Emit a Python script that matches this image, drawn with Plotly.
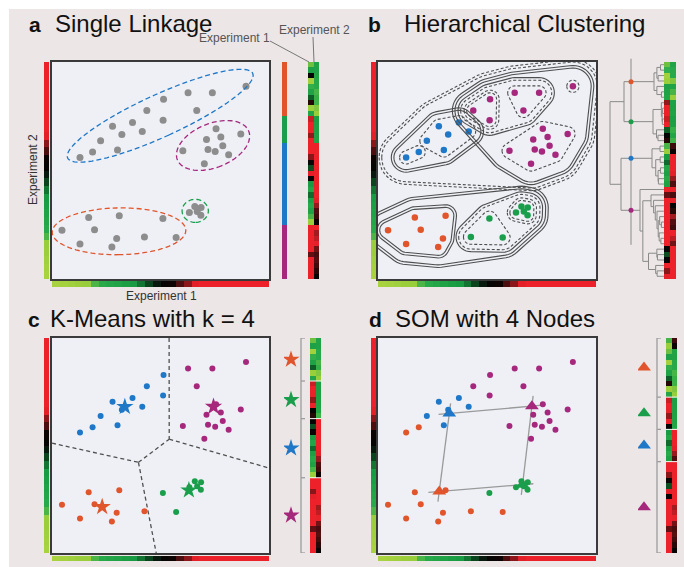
import numpy as np
import plotly.graph_objects as go

W, H = 684, 567

# ---------------- data ----------------
exp1 = [89.4, 73.9, 62.7, 51.4, 43.7, 66.7, 51.2, 37.1, 27.9, 41.6, 32.2, 22.4, 30.2, 18.7, 12.9,
        75.6, 71.2, 77.8, 87.0, 78.7, 60.3, 71.9, 75.2, 81.4, 70.2,
        65.8, 68.7, 66.9, 63.3, 68.6,
        16.9, 31.0, 51.1, 4.6, 19.6, 29.8, 42.6, 57.2, 12.9, 27.6]
exp2 = [88.8, 85.8, 85.8, 82.8, 77.6, 77.6, 73.2, 72.1, 70.4, 68.0, 66.6, 63.7, 59.4, 58.5, 56.0,
        69.2, 64.3, 65.4, 66.8, 61.4, 59.1, 59.7, 58.7, 57.3, 53.1,
        33.4, 32.9, 31.1, 30.6, 29.4,
        28.3, 29.2, 27.9, 22.5, 22.7, 18.7, 19.4, 19.1, 16.1, 14.7]

labels_single = ['B'] * 15 + ['M'] * 10 + ['G'] * 5 + ['O'] * 10
labels_hier = ['M'] * 7 + ['B'] * 8 + ['M'] * 10 + ['G'] * 5 + ['O', 'O', 'G', 'O', 'O', 'O', 'G', 'G', 'O', 'O']
labels_kmeans = ['M', 'M', 'M', 'B', 'B', 'M'] + ['B'] * 9 + ['M'] * 10 + ['G'] * 5 + ['O', 'O', 'G', 'O', 'O', 'O', 'O', 'G', 'O', 'O']
labels_som = ['M'] * 7 + ['B'] * 6 + ['O'] * 2 + ['M'] * 10 + ['G'] * 5 + ['O', 'O', 'G'] + ['O'] * 7

cluster_order = ['O', 'G', 'B', 'M']

som_node_labels = ['O', 'B', 'M', 'G']
som_node_x = [28.1, 32.7, 70.6, 66.3]
som_node_y = [28.6, 64.9, 68.3, 31.8]

# nested groups drawn in the hierarchical panel: (members, line kinds inner->outer, padding)
hier_groups = [
    ([13, 14], ['dash'], 3.0),
    ([7, 8, 9, 10, 11, 12], ['dash'], 3.2),
    ([3, 4, 6], ['dash', 'dash'], 3.0),
    ([1, 2, 5], ['dash'], 3.2),
    ([0], ['dash'], 2.8),
    (list(range(15, 25)), ['dash'], 3.4),
    ([1, 2, 3, 4, 5, 6], ['dash', 'solid'], 5.8),
    (list(range(7, 15)), ['solid', 'solid'], 5.6),
    (list(range(0, 7)) + list(range(15, 25)), ['solid', 'solid'], 8.4),
    (list(range(0, 25)), ['dash', 'dash'], 11.2),
    ([25, 26, 27, 28, 29], ['dash', 'dash'], 2.8),
    ([32, 36, 37], ['dash'], 3.4),
    ([25, 26, 27, 28, 29, 32, 36, 37], ['dash', 'solid'], 5.6),
    ([30, 31, 33, 34, 35, 38, 39], ['solid', 'solid'], 3.8),
    (list(range(25, 40)), ['solid', 'solid'], 8.2),
]

# dendrogram depths (pixels from the heat map edge)
dend_cluster_depth = {'O': 10, 'G': 11, 'B': 12, 'M': 24}
dend_pair_depth = {'OG': 40, 'BM': 43}
dend_root_depth = 54
dend_cut_depth = 33

# ---------------- styles ----------------
X = np.array(exp1)
Y = np.array(exp2)
COL = {'O': '#e0552b', 'G': '#1b9e4b', 'B': '#1e77c7', 'M': '#a6287d'}
GRAY = '#8d8d8d'
BG = '#ece6e6'
PANEL_BG = '#eef0f6'
FONT = 'Liberation Sans, Arial, sans-serif'
CS = [[0.0, '#a8d23e'], [0.15, '#98cd3b'], [0.2, '#2aab4b'], [0.38, '#179a42'], [0.44, '#0c4a1f'],
      [0.5, '#050505'], [0.56, '#0d0303'], [0.6, '#5c1012'], [0.645, '#a51b20'], [0.67, '#ec2129'],
      [1.0, '#ec2129']]
grad_levels = np.linspace(0, 100, 28)

fig = go.Figure()
layout_axes = {}
counter = [0]


def new_axes(px0, py0, px1, py1, xr, yr, frame=False):
    counter[0] += 1
    k = counter[0]
    s = '' if k == 1 else str(k)
    common = dict(showgrid=False, zeroline=False, showticklabels=False, ticks='', fixedrange=True)
    xa = dict(domain=[px0 / W, px1 / W], range=xr, anchor='y' + s, **common)
    ya = dict(domain=[1 - py1 / H, 1 - py0 / H], range=yr, anchor='x' + s, **common)
    if frame:
        for a in (xa, ya):
            a.update(showline=True, mirror=True, linecolor='#3a3a3a', linewidth=1.6)
    else:
        xa['visible'] = False
        ya['visible'] = False
    layout_axes['xaxis' + s] = xa
    layout_axes['yaxis' + s] = ya
    return 'x' + s, 'y' + s


PAGE = new_axes(0, 0, W, H, [0, W], [H, 0])
PA = new_axes(52, 62, 269, 279, [0, 100], [0, 100], True)
PB = new_axes(378, 62, 596, 279, [0, 100], [0, 100], True)
PC = new_axes(52, 338, 269, 553, [0, 100], [0, 100], True)
PD = new_axes(378, 338, 596, 553, [0, 100], [0, 100], True)
ROW_H = (279 - 62) / 40
SA = new_axes(280, 62, 323, 279, [280, 323], [40, 0])
SB = new_axes(604, 62 - 0.75 * ROW_H, 678, 279, [604, 678], [40, -0.75])
SC = new_axes(284, 338, 324, 553, [284, 324], [40, 0])
SD = new_axes(638, 338, 680, 553, [638, 680], [40, 0])

shapes = []
annotations = []

# white frame strips and panel backgrounds
shapes.append(dict(type='rect', xref='paper', yref='paper', x0=0, x1=1, y0=1 - 9 / H, y1=1,
                   fillcolor='white', line=dict(width=0), layer='below'))
shapes.append(dict(type='rect', xref='paper', yref='paper', x0=0, x1=9 / W, y0=0, y1=1,
                   fillcolor='white', line=dict(width=0), layer='below'))
for P in (PA, PB, PC, PD):
    shapes.append(dict(type='rect', xref=P[0], yref=P[1], x0=0, x1=100, y0=0, y1=100,
                       fillcolor=PANEL_BG, line=dict(width=0), layer='below'))

# ---------------- gradient bars ----------------
bars = [('v', 44, 49, 62, 279), ('h', 52, 269, 281, 287),
        ('v', 371, 376, 62, 279), ('h', 378, 596, 281, 287),
        ('v', 44, 49, 338, 553), ('h', 52, 269, 556, 561),
        ('v', 371, 376, 338, 553), ('h', 378, 596, 556, 561)]
n = len(grad_levels)
for kind, a0, a1, b0, b1 in bars:
    if kind == 'v':
        fig.add_trace(go.Heatmap(z=[[v] for v in grad_levels[::-1]], x=[a0, a1],
                                 y=np.linspace(b0, b1, n + 1), colorscale=CS, zmin=0, zmax=100,
                                 showscale=False, hoverinfo='skip', xaxis=PAGE[0], yaxis=PAGE[1]))
    else:
        fig.add_trace(go.Heatmap(z=[list(grad_levels)], x=np.linspace(a0, a1, n + 1),
                                 y=[b0, b1], colorscale=CS, zmin=0, zmax=100,
                                 showscale=False, hoverinfo='skip', xaxis=PAGE[0], yaxis=PAGE[1]))


def members_of(labels, c):
    return [i for i in range(len(labels)) if labels[i] == c]


def add_points(P, labels, size, colored=True):
    for c in cluster_order:
        idx = members_of(labels, c)
        fig.add_trace(go.Scatter(x=X[idx], y=Y[idx], mode='markers',
                                 marker=dict(size=size, color=COL[c] if colored else GRAY, line=dict(width=0)),
                                 hoverinfo='skip', xaxis=P[0], yaxis=P[1]))


# ---------------- panel a: single linkage ellipses ----------------
for c in cluster_order:
    idx = members_of(labels_single, c)
    pts = np.column_stack([X[idx], Y[idx]])
    cov = np.cov(pts.T, bias=True)
    vals, vecs = np.linalg.eigh(cov)
    proj = pts @ vecs
    lo, hi = proj.min(0), proj.max(0)
    ctr = (lo + hi) / 2
    half = (hi - lo) / 2 * 1.05 + 3.2
    t = np.linspace(0, 2 * np.pi, 90)
    local = np.column_stack([ctr[0] + half[0] * np.cos(t), ctr[1] + half[1] * np.sin(t)])
    world = local @ vecs.T
    path = 'M ' + ' L '.join(f'{x:.2f},{y:.2f}' for x, y in world) + ' Z'
    shapes.append(dict(type='path', path=path, xref=PA[0], yref=PA[1],
                       line=dict(color=COL[c], width=1.3, dash='5px,3px')))
add_points(PA, labels_single, 7, colored=False)


# ---------------- panel b: nested outlines ----------------
def hull(pts):
    pts = sorted(set((round(p[0], 4), round(p[1], 4)) for p in pts))
    if len(pts) <= 2:
        return pts

    def cross(o, a, b):
        return (a[0] - o[0]) * (b[1] - o[1]) - (a[1] - o[1]) * (b[0] - o[0])
    lower, upper = [], []
    for p in pts:
        while len(lower) >= 2 and cross(lower[-2], lower[-1], p) <= 0:
            lower.pop()
        lower.append(p)
    for p in reversed(pts):
        while len(upper) >= 2 and cross(upper[-2], upper[-1], p) <= 0:
            upper.pop()
        upper.append(p)
    return lower[:-1] + upper[:-1]


def blob_path(members, pad):
    ang = np.linspace(0, 2 * np.pi, 40, endpoint=False)
    pts = []
    for i in members:
        for a in ang:
            pts.append((X[i] + pad * np.cos(a), Y[i] + pad * np.sin(a)))
    h = hull(pts)
    return 'M ' + ' L '.join(f'{x:.2f},{y:.2f}' for x, y in h) + ' Z'


for members, kinds, pad in hier_groups:
    for k, kind in enumerate(kinds):
        shapes.append(dict(type='path', path=blob_path(members, pad + 1.2 * k), xref=PB[0], yref=PB[1],
                           line=dict(color='#4e4e4e', width=1.1,
                                     dash='solid' if kind == 'solid' else '3px,2px')))
add_points(PB, labels_hier, 6.5)

# ---------------- panel c: k-means ----------------
cent = {}
for c in cluster_order:
    idx = members_of(labels_kmeans, c)
    cent[c] = (X[idx].mean(), Y[idx].mean())


def clip(poly, a, b, k):
    out = []
    for i in range(len(poly)):
        p, q = poly[i], poly[(i + 1) % len(poly)]
        fp = a * p[0] + b * p[1] - k
        fq = a * q[0] + b * q[1] - k
        if fp <= 0:
            out.append(p)
        if fp * fq < 0:
            t = fp / (fp - fq)
            out.append((p[0] + t * (q[0] - p[0]), p[1] + t * (q[1] - p[1])))
    return out


def on_border(p, q):
    for v in (0.0, 100.0):
        if abs(p[0] - v) < 1e-6 and abs(q[0] - v) < 1e-6:
            return True
        if abs(p[1] - v) < 1e-6 and abs(q[1] - v) < 1e-6:
            return True
    return False


edges = set()
for c in cluster_order:
    poly = [(0.0, 0.0), (100.0, 0.0), (100.0, 100.0), (0.0, 100.0)]
    sc = cent[c]
    for d in cluster_order:
        if d == c:
            continue
        sd = cent[d]
        poly = clip(poly, 2 * (sd[0] - sc[0]), 2 * (sd[1] - sc[1]),
                    sd[0] ** 2 + sd[1] ** 2 - sc[0] ** 2 - sc[1] ** 2)
    for i in range(len(poly)):
        p, q = poly[i], poly[(i + 1) % len(poly)]
        if on_border(p, q) or np.hypot(p[0] - q[0], p[1] - q[1]) < 1e-6:
            continue
        key = tuple(sorted([(round(p[0], 3), round(p[1], 3)), (round(q[0], 3), round(q[1], 3))]))
        edges.add(key)
vx, vy = [], []
for p, q in edges:
    vx += [p[0], q[0], None]
    vy += [p[1], q[1], None]
fig.add_trace(go.Scatter(x=vx, y=vy, mode='lines', line=dict(color='#505050', width=1.3, dash='4px,3px'),
                         hoverinfo='skip', xaxis=PC[0], yaxis=PC[1]))
add_points(PC, labels_kmeans, 6)
for c in cluster_order:
    fig.add_trace(go.Scatter(x=[cent[c][0]], y=[cent[c][1]], mode='markers',
                             marker=dict(symbol='star', size=13, color=COL[c], line=dict(width=0)),
                             hoverinfo='skip', xaxis=PC[0], yaxis=PC[1]))

# ---------------- panel d: SOM ----------------
EXT = 0.13
gx, gy = [], []
for k in range(4):
    x0, y0 = som_node_x[k], som_node_y[k]
    x1, y1 = som_node_x[(k + 1) % 4], som_node_y[(k + 1) % 4]
    dx, dy = x1 - x0, y1 - y0
    gx += [x0 - EXT * dx, x1 + EXT * dx, None]
    gy += [y0 - EXT * dy, y1 + EXT * dy, None]
fig.add_trace(go.Scatter(x=gx, y=gy, mode='lines', line=dict(color='#9a9a9a', width=1.3),
                         hoverinfo='skip', xaxis=PD[0], yaxis=PD[1]))
add_points(PD, labels_som, 6)
for k, c in enumerate(som_node_labels):
    fig.add_trace(go.Scatter(x=[som_node_x[k]], y=[som_node_y[k]], mode='markers',
                             marker=dict(symbol='triangle-up', size=12, color=COL[c], line=dict(width=0)),
                             hoverinfo='skip', xaxis=PD[0], yaxis=PD[1]))


# ---------------- side pieces ----------------
def ordered_rows(labels):
    order, counts = [], []
    for c in cluster_order:
        idx = members_of(labels, c)
        order += idx
        counts.append(len(idx))
    return order, counts


def add_heat(S, order, xe):
    fig.add_trace(go.Heatmap(z=[[X[i], Y[i]] for i in order], x=xe, y=list(range(len(order) + 1)),
                             colorscale=CS, zmin=0, zmax=100, showscale=False, hoverinfo='skip',
                             xaxis=S[0], yaxis=S[1]))


# a: cluster bar + heat map
order_a, counts_a = ordered_rows(labels_single)
code = {c: k for k, c in enumerate(cluster_order)}
disc = []
for k, c in enumerate(cluster_order):
    disc += [[k / 4, COL[c]], [(k + 1) / 4, COL[c]]]
fig.add_trace(go.Heatmap(z=[[code[labels_single[i]]] for i in order_a], x=[282, 287], y=list(range(41)),
                         colorscale=disc, zmin=0, zmax=3, showscale=False, hoverinfo='skip',
                         xaxis=SA[0], yaxis=SA[1]))
add_heat(SA, order_a, [308, 313.5, 319])


# b: dendrogram + heat map
def avg_tree(members):
    P = np.column_stack([X[members], Y[members]])
    D = np.sqrt(((P[:, None, :] - P[None, :, :]) ** 2).sum(-1))
    nodes = [{'leaves': [k], 'h': 0.0, 'kids': None, 'pid': members[k]} for k in range(len(members))]
    while len(nodes) > 1:
        best = None
        for a in range(len(nodes)):
            for b in range(a + 1, len(nodes)):
                d = D[np.ix_(nodes[a]['leaves'], nodes[b]['leaves'])].mean()
                if best is None or d < best[0]:
                    best = (d, a, b)
        d, a, b = best
        merged = {'leaves': nodes[a]['leaves'] + nodes[b]['leaves'], 'h': d,
                  'kids': (nodes[a], nodes[b]), 'pid': None}
        nodes = [nd for kk, nd in enumerate(nodes) if kk not in (a, b)] + [merged]
    return nodes[0]


def leaf_order(node):
    if node['kids'] is None:
        return [node['pid']]
    return leaf_order(node['kids'][0]) + leaf_order(node['kids'][1])


DX = 664
dxs, dys = [], []


def seg(x0, y0, x1, y1):
    dxs.extend([x0, x1, None])
    dys.extend([y0, y1, None])


def draw_tree(node, ymap, scale):
    if node['kids'] is None:
        return ymap[node['pid']], 0.0
    y1, d1 = draw_tree(node['kids'][0], ymap, scale)
    y2, d2 = draw_tree(node['kids'][1], ymap, scale)
    d = node['h'] * scale
    seg(DX - d, y1, DX - d, y2)
    seg(DX - d1, y1, DX - d, y1)
    seg(DX - d2, y2, DX - d, y2)
    return (y1 + y2) / 2, d


trees = {c: avg_tree(members_of(labels_hier, c)) for c in cluster_order}
order_b = []
for c in cluster_order:
    order_b += leaf_order(trees[c])
ymap = {pid: r + 0.5 for r, pid in enumerate(order_b)}
yc, dc = {}, {}
for c in cluster_order:
    yc[c], dc[c] = draw_tree(trees[c], ymap, dend_cluster_depth[c] / trees[c]['h'])
ypair = {}
for pair in ('OG', 'BM'):
    d = dend_pair_depth[pair]
    a, b = pair[0], pair[1]
    seg(DX - d, yc[a], DX - d, yc[b])
    seg(DX - dc[a], yc[a], DX - d, yc[a])
    seg(DX - dc[b], yc[b], DX - d, yc[b])
    ypair[pair] = (yc[a] + yc[b]) / 2
seg(DX - dend_root_depth, ypair['OG'], DX - dend_root_depth, ypair['BM'])
seg(DX - dend_pair_depth['OG'], ypair['OG'], DX - dend_root_depth, ypair['OG'])
seg(DX - dend_pair_depth['BM'], ypair['BM'], DX - dend_root_depth, ypair['BM'])
seg(DX - dend_cut_depth, -0.6, DX - dend_cut_depth, 33.7)
fig.add_trace(go.Scatter(x=dxs, y=dys, mode='lines', line=dict(color='#8a8a8a', width=1),
                         hoverinfo='skip', xaxis=SB[0], yaxis=SB[1]))
fig.add_trace(go.Scatter(x=[DX - dend_cut_depth] * 4, y=[yc[c] for c in cluster_order], mode='markers',
                         marker=dict(size=5, color=[COL[c] for c in cluster_order]),
                         hoverinfo='skip', xaxis=SB[0], yaxis=SB[1]))
add_heat(SB, order_b, [664, 670, 676])


# c / d: markers, brackets, heat maps
def side_block(S, labels, mx, symbol, msize, bx, hx):
    order, counts = ordered_rows(labels)
    add_heat(S, order, hx)
    bounds = np.cumsum([0] + counts)
    mids = [(bounds[k] + bounds[k + 1]) / 2 for k in range(4)]
    fig.add_trace(go.Scatter(x=[mx] * 4, y=mids, mode='markers',
                             marker=dict(symbol=symbol, size=msize, color=[COL[c] for c in cluster_order],
                                         line=dict(width=0)),
                             hoverinfo='skip', xaxis=S[0], yaxis=S[1]))
    shapes.append(dict(type='line', xref=S[0], yref=S[1], x0=bx, x1=bx, y0=0, y1=bounds[-1],
                       line=dict(color='#9c9c9c', width=1.3)))
    for bnd in bounds:
        shapes.append(dict(type='line', xref=S[0], yref=S[1], x0=bx, x1=bx + 4, y0=bnd, y1=bnd,
                           line=dict(color='#9c9c9c', width=1.3)))
    for bnd in bounds[1:-1]:
        shapes.append(dict(type='line', xref=S[0], yref=S[1], x0=hx[0], x1=hx[-1], y0=bnd, y1=bnd,
                           line=dict(color='white', width=1)))


side_block(SC, labels_kmeans, 291, 'star', 13, 301, [310, 315.5, 321])
side_block(SD, labels_som, 644, 'triangle-up', 12, 657, [666, 671.5, 677])

# ---------------- texts ----------------


def text(x, y, s, size, anchor='left', color='#111', angle=0):
    annotations.append(dict(x=x, y=y, xref=PAGE[0], yref=PAGE[1], text=s, showarrow=False,
                            xanchor=anchor, yanchor='middle', textangle=angle,
                            font=dict(family=FONT, size=size, color=color)))


titles = [(27, 53, 23.5, 'a', 'Single Linkage'), (366, 402, 23.5, 'b', 'Hierarchical Clustering'),
          (26, 48, 318.5, 'c', 'K-Means with k = 4'), (367, 393, 318.5, 'd', 'SOM with 4 Nodes')]
for lx, tx, ty, letter, title in titles:
    text(lx, ty + 1, '<b>' + letter + '</b>', 21)
    text(tx, ty, title, 24)

text(33, 170, 'Experiment 2', 12, anchor='center', color='#333', angle=-90)
text(161, 296, 'Experiment 1', 12, anchor='center', color='#333')
text(272, 38, 'Experiment 1', 12, anchor='right', color='#555')
text(277, 30, 'Experiment 2', 12, anchor='left', color='#555')
shapes.append(dict(type='line', xref=PAGE[0], yref=PAGE[1], x0=270, y0=41, x1=309, y1=62,
                   line=dict(color='#777', width=1)))
shapes.append(dict(type='line', xref=PAGE[0], yref=PAGE[1], x0=313, y0=37, x1=314, y1=62,
                   line=dict(color='#777', width=1)))

fig.update_layout(width=W, height=H, margin=dict(l=0, r=0, t=0, b=0), paper_bgcolor=BG,
                  plot_bgcolor='rgba(0,0,0,0)', showlegend=False, hovermode=False,
                  shapes=shapes, annotations=annotations, **layout_axes)
fig.write_html('out.html', config={'displayModeBar': False},
               post_script="document.body.style.margin='0px';")
